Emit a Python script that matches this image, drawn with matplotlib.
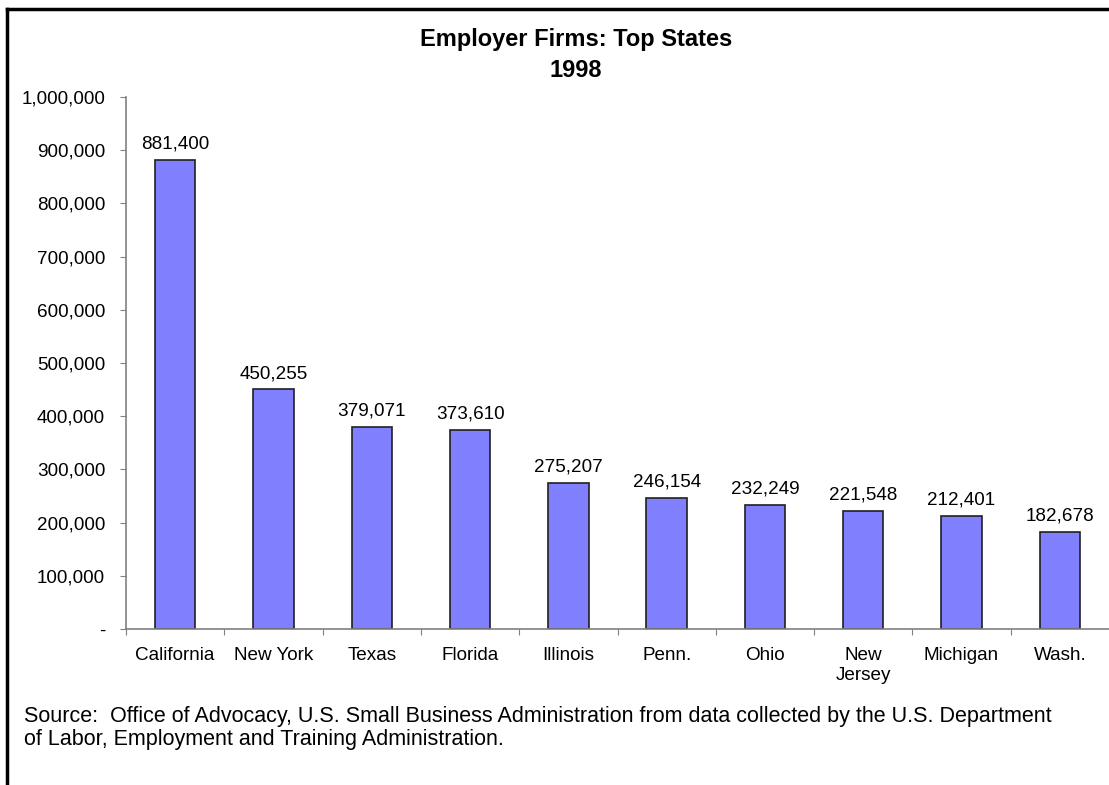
import matplotlib.pyplot as plt
from matplotlib.ticker import FuncFormatter

plt.rcParams['font.family'] = ['Liberation Sans', 'DejaVu Sans']

states = ['California', 'New York', 'Texas', 'Florida', 'Illinois',
          'Penn.', 'Ohio', 'New\nJersey', 'Michigan', 'Wash.']
firms = [881400, 450255, 379071, 373610, 275207,
         246154, 232249, 221548, 212401, 182678]
yticks = list(range(0, 1000001, 100000))
source = ['Source:  Office of Advocacy, U.S. Small Business Administration from data collected by the U.S. Department',
          'of Labor, Employment and Training Administration.']

fig = plt.figure(figsize=(11.09, 7.85), dpi=100)
ax = fig.add_axes([126/1109, 156/785, 983/1109, 532/785])

x = range(len(states))
ax.bar(x, firms, width=0.41, color='#8080FF', edgecolor='#202020', linewidth=1.2)
for i, v in zip(x, firms):
    ax.text(i, v + 14000, f'{v:,}', ha='center', va='bottom', fontsize=13.6)

ax.set_xlim(-0.5, len(states) - 0.5)
ax.set_ylim(0, 1000000)
ax.set_yticks(yticks)
ax.yaxis.set_major_formatter(FuncFormatter(lambda v, p: '-' if v == 0 else f'{int(v):,}'))
ax.set_xticks([i - 0.5 for i in x])
ax.set_xticklabels([])
ax.set_xticks(list(x), minor=True)
ax.set_xticklabels(states, minor=True, fontsize=13.6, linespacing=1.2)
ax.tick_params(axis='x', which='minor', length=0, pad=13)
ax.tick_params(axis='x', which='major', length=4, color='#808080', direction='out')
ax.tick_params(axis='y', length=4, color='#808080', labelsize=13.6, pad=11)

for s in ['top', 'right']:
    ax.spines[s].set_visible(False)
for s in ['left', 'bottom']:
    ax.spines[s].set_color('#808080')
    ax.spines[s].set_linewidth(1.2)

fig.text(576/1109, 1 - 46/785, 'Employer Firms: Top States', ha='center', va='baseline',
         fontsize=17, fontweight='bold')
fig.text(576/1109, 1 - 77/785, '1998', ha='center', va='baseline',
         fontsize=17, fontweight='bold')
for k, line in enumerate(source):
    fig.text(24/1109, 1 - (722 + 23 * k)/785, line, ha='left', va='baseline', fontsize=15.5)

# frame lines along the left and top edges
fig.add_artist(plt.Line2D([7/1109, 7/1109], [0, 1 - 9/785], color='black', linewidth=2.5,
                          transform=fig.transFigure))
fig.add_artist(plt.Line2D([7/1109, 1], [1 - 9/785, 1 - 9/785], color='black', linewidth=2.5,
                          transform=fig.transFigure))

fig.savefig('out.png', dpi=100)
